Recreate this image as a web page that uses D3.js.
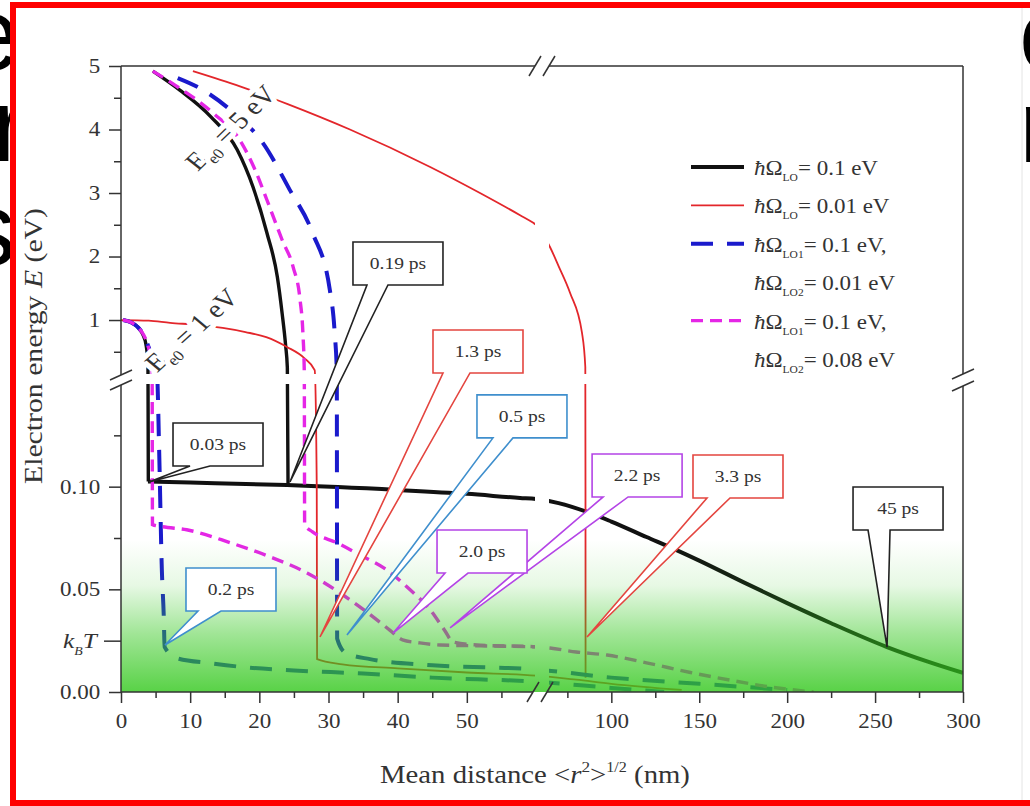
<!DOCTYPE html>
<html>
<head>
<meta charset="utf-8">
<script src="https://cdn.jsdelivr.net/npm/d3@7"></script>
<style>
  body { margin: 0; background: #fff; }
  svg { display: block; }
</style>
</head>
<body>
<div id="chart"></div>
<script>

// ---------------------------------- DATA ----------------------------------
// points are [mean distance (nm), electron energy (eV)]

// hbar*Omega_LO = 0.1 eV
let black_E5 = [[4.6,4.92],[8.5,4.62],[13,4.2],[16.8,3.68],[19.1,3.09],[21.1,2.37],[22.6,1.68],[23.3,1.1],[23.8,0.6],[24.05,0.25],[24.15,0.1012]];
let black_E1 = [[0.3,1.0],[1.5,0.96],[2.5,0.88],[3.2,0.76],[3.6,0.62],[3.8,0.45],[3.9,0.25],[3.95,0.1025]];
let black_tail = [[3.9,0.1025],[10,0.102],[24,0.1008],[40,0.0984],[50,0.0965],[57.7,0.0945],[60,0.094],[70,0.092],[86.2,0.0877],[100,0.083],[120,0.0755],[137.4,0.069],[150,0.064],[175,0.0535],[200,0.0433],[225,0.0335],[256.8,0.0219],[280,0.0148],[300,0.0093]];

// hbar*Omega_LO = 0.01 eV
let red_E5 = [[10.4,4.92],[17.2,4.68],[24.1,4.4],[33.1,4.0],[44.7,3.41],[51.9,3.0],[57.7,2.65],[59.6,2.53],[60,2.5],[65.1,2.15],[70,1.85],[76.5,1.43],[83.3,0.8],[85.2,0.26],[85.3,0.1],[85.35,0.007]];
let red_E1 = [[0,1.0],[4,0.99],[7.1,0.955],[11,0.925],[14.7,0.875],[18,0.81],[21,0.73],[24,0.575],[26.5,0.4],[28,0.21],[28.3,0.1],[28.35,0.016],[32,0.0135],[40,0.0115],[50,0.0095],[60,0.008],[80,0.006],[100,0.004],[140,0.001]];

// hbar*Omega_LO1 = 0.1 eV, hbar*Omega_LO2 = 0.01 eV
let blue_E5 = [[8.2,4.81],[11.4,4.65],[15.8,4.31],[20.5,3.79],[24.4,3.05],[27.7,2.37],[30.2,1.47],[30.9,0.79],[31.2,0.18],[31.25,0.026],[32.5,0.019],[36,0.016],[45,0.013],[60,0.011],[100,0.007],[150,0.004],[200,0.001]];
let blue_E1 = [[0.3,1.0],[1.5,0.96],[2.5,0.88],[3.3,0.76],[3.9,0.6],[4.6,0.4],[5.2,0.2],[5.5,0.12],[5.9,0.06],[6.2,0.035],[6.3,0.022],[8,0.0165],[13,0.014],[18,0.012],[25,0.0105],[35,0.009],[45,0.007],[60,0.005],[100,0.002],[130,0]];

// hbar*Omega_LO1 = 0.1 eV, hbar*Omega_LO2 = 0.08 eV
let magenta_E5 = [[4.6,4.92],[7.8,4.7],[13.3,4.26],[17.2,3.83],[19.4,3.36],[21.1,2.89],[23.3,2.26],[24.9,1.83],[25.9,1.31],[26.3,0.79],[26.5,0.18],[26.55,0.0815],[27.7,0.078],[31.2,0.0727],[34.5,0.0668],[38.4,0.0595],[41.8,0.0498],[44.7,0.04],[46.8,0.03],[48,0.0244],[52,0.0228],[60,0.022],[65,0.0214],[80,0.0195],[97.5,0.018],[120,0.0142],[145,0.0095],[167.5,0.0058],[190,0.0025],[215,0]];
let magenta_E1 = [[0.3,1.0],[1.5,0.96],[2.5,0.88],[3.3,0.76],[3.9,0.6],[4.3,0.4],[4.5,0.2],[4.55,0.0815],[6,0.0805],[9.5,0.079],[15.8,0.0727],[21.5,0.0659],[26.9,0.058],[33.1,0.0449],[37,0.0351],[38.9,0.03],[40.7,0.0254],[43.2,0.0239],[46.1,0.0229],[52,0.0225],[60,0.022]];

// ticks
let xMajor = [0,10,20,30,40,50,100,150,200,250,300];
let xMinor = [5,15,25,35,45,55,75,125,175,225,275];
let yMajor = [0,0.05,0.10,1,2,3,4,5];
let yMinor = [0.075,0.125,0.5,1.5,2.5,3.5,4.5];
let kBT = 0.025;

// relaxation times, tip of the arrow on the curve
let callouts = [
  {label: "0.03 ps", x: 4.05,  E: 0.1023, color: "black"},
  {label: "0.19 ps", x: 24.43, E: 0.1023, color: "black"},
  {label: "0.2 ps",  x: 6.36,  E: 0.0229, color: "blue"},
  {label: "1.3 ps",  x: 28.77, E: 0.0268, color: "red"},
  {label: "0.5 ps",  x: 32.67, E: 0.0278, color: "blue"},
  {label: "2.2 ps",  x: 47.58, E: 0.0312, color: "magenta"},
  {label: "2.0 ps",  x: 39.33, E: 0.0287, color: "magenta"},
  {label: "3.3 ps",  x: 86.16, E: 0.0268, color: "red"},
  {label: "45 ps",   x: 256.8, E: 0.0219, color: "black"}
];

let legendLabels = [
  {series: "black",   sub: "LO",  val: "= 0.1 eV"},
  {series: "red",     sub: "LO",  val: "= 0.01 eV"},
  {series: "blue",    sub: "LO1", val: "= 0.1 eV,"},
  {series: null,      sub: "LO2", val: "= 0.01 eV"},
  {series: "magenta", sub: "LO1", val: "= 0.1 eV,"},
  {series: null,      sub: "LO2", val: "= 0.08 eV"}
];

// ---------------------------------- STYLE ----------------------------------

let styles = {
  black:   {color: "#111111", width: 3.4, dash: null},
  red:     {color: "#e3262b", width: 1.8, dash: null},
  blue:    {color: "#1a1acc", width: 4,   dash: "22,14"},
  magenta: {color: "#e526e6", width: 3.4, dash: "12,7"}
};
let boxColors = {black: "#222", red: "#e4453f", blue: "#3f8fcd", magenta: "#b444e6"};

// box position relative to the arrow tip, and where the arrow leaves the box
let boxOffsets = {
  "0.03 ps": [24, -59, 17, 37],
  "0.19 ps": [63, -240, 14, 35],
  "0.2 ps":  [21, -77, 12, 35],
  "0.5 ps":  [130, -240, 16, 36],
  "1.3 ps":  [113, -307, 10, 37],
  "2.0 ps":  [44, -103, 8, 31],
  "2.2 ps":  [142, -174, 11, 36],
  "3.3 ps":  [106, -182, 14, 37],
  "45 ps":   [-34, -160, 15, 37]
};

const SERIF = "Liberation Serif, Times New Roman, serif";
const SX = 1.15;   // the figure is a little stretched sideways

// ---------------------------------- PAGE ----------------------------------

let svg = d3.select("#chart").append("svg")
  .attr("width", 1030)
  .attr("height", 806);

// slide text behind the picture
let slide = [["e", -38, 70], ["r", -8, 161], ["s", -36, 265], ["o", 1019, 70], ["n", 1019, 162]];
slide.forEach(s => {
  svg.append("text").attr("x", s[1]).attr("y", s[2])
    .attr("font-family", "Liberation Sans, Arial, sans-serif")
    .attr("font-size", 104).attr("fill", "#000").text(s[0]);
});

svg.append("rect").attr("x", 16).attr("y", 8).attr("width", 1006).attr("height", 794).attr("fill", "#fff");
svg.append("line").attr("x1", 1022).attr("x2", 1022).attr("y1", 8).attr("y2", 802)
  .attr("stroke", "#e4e4e4").attr("stroke-width", 1);
svg.append("rect").attr("x", 13).attr("y", 5).attr("width", 1040).attr("height", 798)
  .attr("fill", "none").attr("stroke", "#ff0000").attr("stroke-width", 6);

// scales with a break on each axis
let x = d3.scaleLinear().domain([0, 60, 60.001, 300]).range([121, 536, 541, 963]);
let y = d3.scaleLinear().domain([0, 0.15, 0.1501, 5]).range([692, 384, 374, 66]);

let defs = svg.append("defs");
defs.append("clipPath").attr("id", "plotclip")
  .append("rect").attr("x", 121).attr("y", 66).attr("width", 842).attr("height", 626);

let grad = defs.append("linearGradient").attr("id", "green")
  .attr("gradientUnits", "userSpaceOnUse")
  .attr("x1", 0).attr("y1", 540).attr("x2", 0).attr("y2", 692);
[[0, 0], [0.3, 0.12], [0.62, 0.47], [1, 0.82]].forEach(s => {
  grad.append("stop").attr("offset", s[0]).attr("stop-color", "rgb(52,200,30)").attr("stop-opacity", s[1]);
});

let plot = svg.append("g").attr("clip-path", "url(#plotclip)");

let line = d3.line()
  .x(d => x(d[0]))
  .y(d => y(d[1]))
  .curve(d3.curveMonotoneX);

function drawCurve(data, key, w) {
  let st = styles[key];
  plot.append("path")
    .datum(data)
    .attr("fill", "none")
    .attr("stroke", st.color)
    .attr("stroke-width", w || st.width)
    .attr("stroke-dasharray", st.dash)
    .attr("d", line);
}

drawCurve(black_E5, "black");
drawCurve(black_E1, "black");
drawCurve(black_tail, "black", 4);
drawCurve(red_E5, "red");
drawCurve(red_E1, "red");
drawCurve(blue_E5, "blue");
drawCurve(blue_E1, "blue");
drawCurve(magenta_E5, "magenta");
drawCurve(magenta_E1, "magenta");

// initial energy labels, white halo cuts the curves
function e0Label(val, xv, Ev, ang) {
  let t = plot.append("g")
    .attr("transform", `translate(${x(xv)},${y(Ev)}) scale(${SX},1) rotate(${ang})`)
    .append("text")
    .attr("font-family", SERIF).attr("font-size", 25).attr("fill", "#333")
    .attr("stroke", "#fff").attr("stroke-width", 10).attr("paint-order", "stroke")
    .attr("stroke-linejoin", "round");
  t.append("tspan").text("E");
  t.append("tspan").attr("font-size", 15).attr("dy", 6).text("e0");
  t.append("tspan").attr("dy", -6).text(" = " + val + " eV");
}
e0Label("5", 11.1, 3.33, -48);
e0Label("1", 5.2, 0.16, -46);

// break gaps
plot.append("rect").attr("x", 535).attr("y", 66).attr("width", 14).attr("height", 626).attr("fill", "#fff");
plot.append("rect").attr("x", 121).attr("y", 374).attr("width", 842).attr("height", 10).attr("fill", "#fff");

// green band up to kT
svg.append("rect").attr("x", 121).attr("y", 540).attr("width", 842).attr("height", 152)
  .attr("fill", "url(#green)");

// ---------------------------------- AXES ----------------------------------

let axisColor = "#333";
let frame = svg.append("g").attr("stroke", axisColor).attr("stroke-width", 1.5).attr("fill", "none");
let segs = [
  [121, 66, 121, 375], [121, 385, 121, 692],
  [963, 66, 963, 374], [963, 386, 963, 692],
  [121, 66, 535, 66], [549, 66, 963, 66],
  [121, 692, 533, 692], [547, 692, 963, 692]
];
segs.forEach(s => frame.append("line").attr("x1", s[0]).attr("y1", s[1]).attr("x2", s[2]).attr("y2", s[3]));
// break marks
[[121, 375], [121, 385], [963, 374], [963, 386]].forEach(p => {
  frame.append("line").attr("x1", p[0] - 11).attr("y1", p[1] + 5).attr("x2", p[0] + 11).attr("y2", p[1] - 5);
});
[[535, 66], [549, 66], [533, 692], [547, 692]].forEach(p => {
  frame.append("line").attr("x1", p[0] - 6).attr("y1", p[1] + 10).attr("x2", p[0] + 6).attr("y2", p[1] - 10);
});

function styleAxis(g) {
  g.select(".domain").remove();
  g.selectAll("line").attr("stroke", axisColor).attr("stroke-width", 1.5);
  g.selectAll("text")
    .attr("font-family", SERIF).attr("font-size", 20).attr("fill", "#333")
    .attr("transform", `scale(${SX},1)`);
}

let fmt = d => d < 0.5 ? d3.format(".2f")(d) : d3.format("d")(d);

svg.append("g").attr("transform", "translate(121,0)")
  .call(d3.axisLeft(y).tickValues(yMajor).tickSize(12).tickPadding(6).tickFormat(fmt))
  .call(styleAxis);
svg.append("g").attr("transform", "translate(121,0)")
  .call(d3.axisLeft(y).tickValues(yMinor).tickSize(7).tickFormat(""))
  .call(styleAxis);
svg.append("g").attr("transform", "translate(121,0)")
  .call(d3.axisLeft(y).tickValues([kBT]).tickSize(17).tickFormat(""))
  .call(styleAxis);

svg.append("g").attr("transform", "translate(0,692)")
  .call(d3.axisBottom(x).tickValues(xMajor).tickSize(11).tickPadding(11).tickFormat(d3.format("d")))
  .call(styleAxis);
svg.append("g").attr("transform", "translate(0,692)")
  .call(d3.axisBottom(x).tickValues(xMinor).tickSize(6).tickFormat(""))
  .call(styleAxis);

// k_B T label
let kt = svg.append("g").attr("transform", `translate(63,${y(kBT) + 7}) scale(${SX},1)`)
  .append("text").attr("font-family", SERIF).attr("font-size", 22).attr("fill", "#333");
kt.append("tspan").attr("font-style", "italic").text("k");
kt.append("tspan").attr("font-style", "italic").attr("font-size", 12).attr("dy", 7).text("B");
kt.append("tspan").attr("font-style", "italic").attr("dy", -7).text("T");

// axis titles
let ylab = svg.append("text")
  .attr("transform", "translate(42,346) rotate(-90)")
  .attr("text-anchor", "middle")
  .attr("font-family", SERIF).attr("font-size", 26).attr("fill", "#333")
  .attr("textLength", 276).attr("lengthAdjust", "spacingAndGlyphs");
ylab.append("tspan").text("Electron energy ");
ylab.append("tspan").attr("font-style", "italic").text("E");
ylab.append("tspan").text(" (eV)");

let xlab = svg.append("g").attr("transform", `translate(535,783) scale(${SX},1)`)
  .append("text").attr("text-anchor", "middle")
  .attr("font-family", SERIF).attr("font-size", 25).attr("fill", "#333");
xlab.append("tspan").text("Mean distance <");
xlab.append("tspan").attr("font-style", "italic").text("r");
xlab.append("tspan").attr("font-size", 15).attr("dy", -11).text("2");
xlab.append("tspan").attr("dy", 11).text(">");
xlab.append("tspan").attr("font-size", 14).attr("dy", -11).text("1/2");
xlab.append("tspan").attr("dy", 11).text(" (nm)");

// ---------------------------------- CALLOUTS ----------------------------------

callouts.forEach(c => {
  let o = boxOffsets[c.label];
  let tx = x(c.x), ty = y(c.E);
  let bx = tx + o[0], by = ty + o[1], bw = 90, bh = 43;
  let p = d3.path();
  p.moveTo(bx, by);
  p.lineTo(bx + bw, by);
  p.lineTo(bx + bw, by + bh);
  p.lineTo(bx + o[3], by + bh);
  p.lineTo(tx, ty);
  p.lineTo(bx + o[2], by + bh);
  p.lineTo(bx, by + bh);
  p.closePath();
  svg.append("path").attr("d", p.toString())
    .attr("fill", "#fff").attr("stroke", boxColors[c.color]).attr("stroke-width", 1.6)
    .attr("stroke-linejoin", "miter");
  svg.append("g").attr("transform", `translate(${bx + bw / 2},${by + 27}) scale(${SX},1)`)
    .append("text").attr("text-anchor", "middle")
    .attr("font-family", SERIF).attr("font-size", 17).attr("fill", "#333")
    .text(c.label);
});

// ---------------------------------- LEGEND ----------------------------------

let leg = svg.append("g");
legendLabels.forEach((d, i) => {
  let by = 175 + i * 38.4;
  if (d.series) {
    let st = styles[d.series];
    leg.append("line").attr("x1", 691).attr("x2", 744).attr("y1", by - 8).attr("y2", by - 8)
      .attr("stroke", st.color).attr("stroke-width", d.series === "black" ? 4 : st.width)
      .attr("stroke-dasharray", st.dash);
  }
  let t = leg.append("g").attr("transform", `translate(754,${by}) scale(${SX},1)`)
    .append("text").attr("font-family", SERIF).attr("font-size", 20).attr("fill", "#333");
  t.append("tspan").attr("font-style", "italic").text("\u0127");
  t.append("tspan").text("\u03a9");
  t.append("tspan").attr("font-size", 10).attr("dy", 6).text(d.sub);
  t.append("tspan").attr("dy", -6).text(d.val);
});

</script>
</body>
</html>
